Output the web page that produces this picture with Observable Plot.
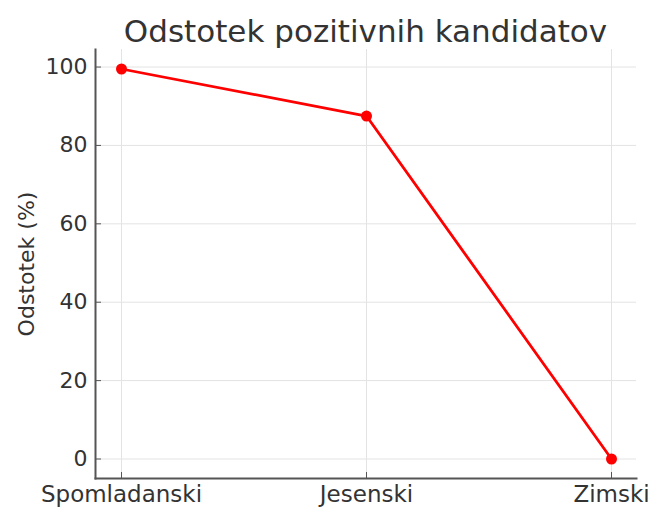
<!DOCTYPE html>
<html><head><meta charset="utf-8">
<script src="https://cdn.jsdelivr.net/npm/d3@7"></script>
<script src="https://cdn.jsdelivr.net/npm/@observablehq/plot@0.6"></script>
<style>
body{margin:0;background:#fff;font-family:"DejaVu Sans",sans-serif;}
#wrap{width:650px;height:507px;position:relative;overflow:hidden;background:#fff}
#title{height:30px;padding-top:16px;line-height:31px;font-size:31px;color:#333;width:541px;margin-left:95px;text-align:center;white-space:nowrap}
</style></head><body><div id="wrap"><div id="title">Odstotek pozitivnih kandidatov</div><div id="chart"></div></div>
<script>
const categories = ["Spomladanski", "Jesenski", "Zimski"];
const values = [99.5, 87.5, 0];
const yTicks = [0, 20, 40, 60, 80, 100];
const yLabel = "Odstotek (%)";

const data = categories.map((c, i) => ({cat: c, val: values[i]}));
const chart = Plot.plot({
  width: 650, height: 461,
  marginLeft: 95, marginRight: 14, marginTop: 3, marginBottom: 29,
  style: {fontFamily: "DejaVu Sans", fontSize: "22px", color: "#333", background: "white", overflow: "visible"},
  x: {type: "point", domain: categories, padding: 0.1, label: null},
  y: {domain: [-4.975, 104.475], label: null},
  marks: [
    Plot.gridX(categories, {stroke: "#e3e3e3", strokeOpacity: 1, strokeWidth: 1}),
    Plot.gridY(yTicks, {stroke: "#e3e3e3", strokeOpacity: 1, strokeWidth: 1}),
    Plot.axisY(yTicks, {tickSize: 0, tickPadding: 8, label: yLabel, labelAnchor: "center", labelArrow: "none", labelOffset: 77}),
    Plot.axisY(yTicks, {text: null, tickSize: 6, dx: 6, stroke: "#555", label: null}),
    Plot.axisX(categories, {tickSize: 0, tickPadding: 7, fontSize: 23, label: null}),
    Plot.axisX(categories, {text: null, tickSize: 6, dy: -6, stroke: "#555", label: null}),
    Plot.frame({anchor: "left", stroke: "#555", strokeWidth: 2}),
    Plot.frame({anchor: "bottom", stroke: "#555", strokeWidth: 2}),
    Plot.line(data, {x: "cat", y: "val", stroke: "red", strokeWidth: 2.8}),
    Plot.dot(data, {x: "cat", y: "val", fill: "red", r: 5.5})
  ]
});
document.getElementById("chart").appendChild(chart);
</script></body></html>
